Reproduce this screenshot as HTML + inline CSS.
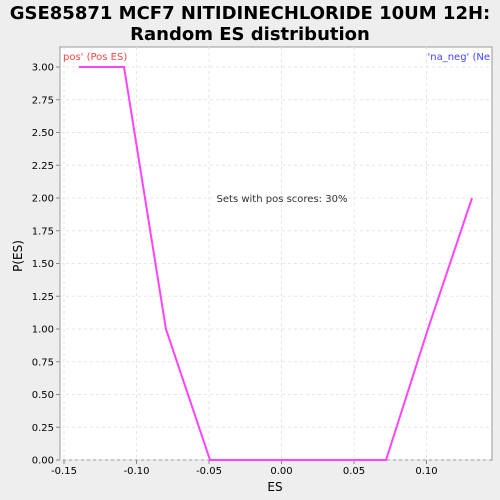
<!DOCTYPE html>
<html><head><meta charset="utf-8"><style>
html,body{margin:0;padding:0;width:500px;height:500px;overflow:hidden;background:#eeeeee;font-family:"Liberation Sans","DejaVu Sans",sans-serif}
svg{display:block}
svg text{font-family:"DejaVu Sans","Liberation Sans",sans-serif}
</style></head><body>
<svg width="500" height="500">
<rect width="500" height="500" fill="#eeeeee"/>
<text x="250" y="19" text-anchor="middle" font-size="18" font-weight="bold" fill="#000">GSE85871 MCF7 NITIDINECHLORIDE 10UM 12H:</text>
<text x="250" y="40" text-anchor="middle" font-size="18" font-weight="bold" fill="#000">Random ES distribution</text>
<rect x="60" y="47" width="432" height="413" fill="#fff" stroke="#999"/>
<g id="grid"></g>
<g id="axes"></g>
<polyline id="line" fill="none" stroke="#ff44ff" stroke-width="2"/>
<text x="63" y="60" font-size="10" fill="#ff4444">pos' (Pos ES)</text>
<text x="490" y="60" text-anchor="end" font-size="10" fill="#4444ff">'na_neg' (Ne</text>
<text x="282" y="202" text-anchor="middle" font-size="10" fill="#333">Sets with pos scores: 30%</text>
<text x="275" y="491" text-anchor="middle" font-size="12" fill="#000">ES</text>
<text x="22" y="256" text-anchor="middle" font-size="12" fill="#000" transform="rotate(-90 22 256)">P(ES)</text>
</svg>
<script>
const esValues=[-0.1397,-0.1086,-0.0797,-0.0493,-0.0183,0.0107,0.041,0.0721,0.101,0.1314];
const pValues=[3,3,1,0,0,0,0,0,1,2];
const xTicks=[-0.15,-0.10,-0.05,0.00,0.05,0.10];
const xTickLabels=["-0.15","-0.10","-0.05","0.00","0.05","0.10"];
const yTicks=[0,0.25,0.5,0.75,1,1.25,1.5,1.75,2,2.25,2.5,2.75,3];
const yTickLabels=["0.00","0.25","0.50","0.75","1.00","1.25","1.50","1.75","2.00","2.25","2.50","2.75","3.00"];
const xs=v=>281.5+v*1450, ys=v=>460-v*131;
const NS="http://www.w3.org/2000/svg";
const grid=document.getElementById('grid'), axes=document.getElementById('axes');
function mk(tag,attrs,parent){const e=document.createElementNS(NS,tag);for(const k in attrs)e.setAttribute(k,attrs[k]);parent.appendChild(e);return e;}
xTicks.forEach((t,i)=>{const x=xs(t);
 const g=mk('line',{x1:x,x2:x,y1:47,y2:460,stroke:'#e6e6e6','stroke-dasharray':'3,3'},grid);
 
 
 mk('line',{x1:x,x2:x,y1:460,y2:464,stroke:'#888'},axes);
 const tx=mk('text',{x:x,y:474,'text-anchor':'middle','font-size':'10',fill:'#000'},axes);tx.textContent=xTickLabels[i];
 
 
});
yTicks.forEach((t,i)=>{const y=ys(t);
 const g=mk('line',{x1:60,x2:492,y1:y,y2:y,stroke:'#e6e6e6','stroke-dasharray':'3,3'},grid);
 
 
 mk('line',{x1:56,x2:60,y1:y,y2:y,stroke:'#888'},axes);
 const tx=mk('text',{x:54,y:y+3.5,'text-anchor':'end','font-size':'10',fill:'#000'},axes);tx.textContent=yTickLabels[i];
 
 
});
document.getElementById('line').setAttribute('points',esValues.map((v,i)=>xs(v)+','+ys(pValues[i])).join(' '));
</script>
</body></html>
